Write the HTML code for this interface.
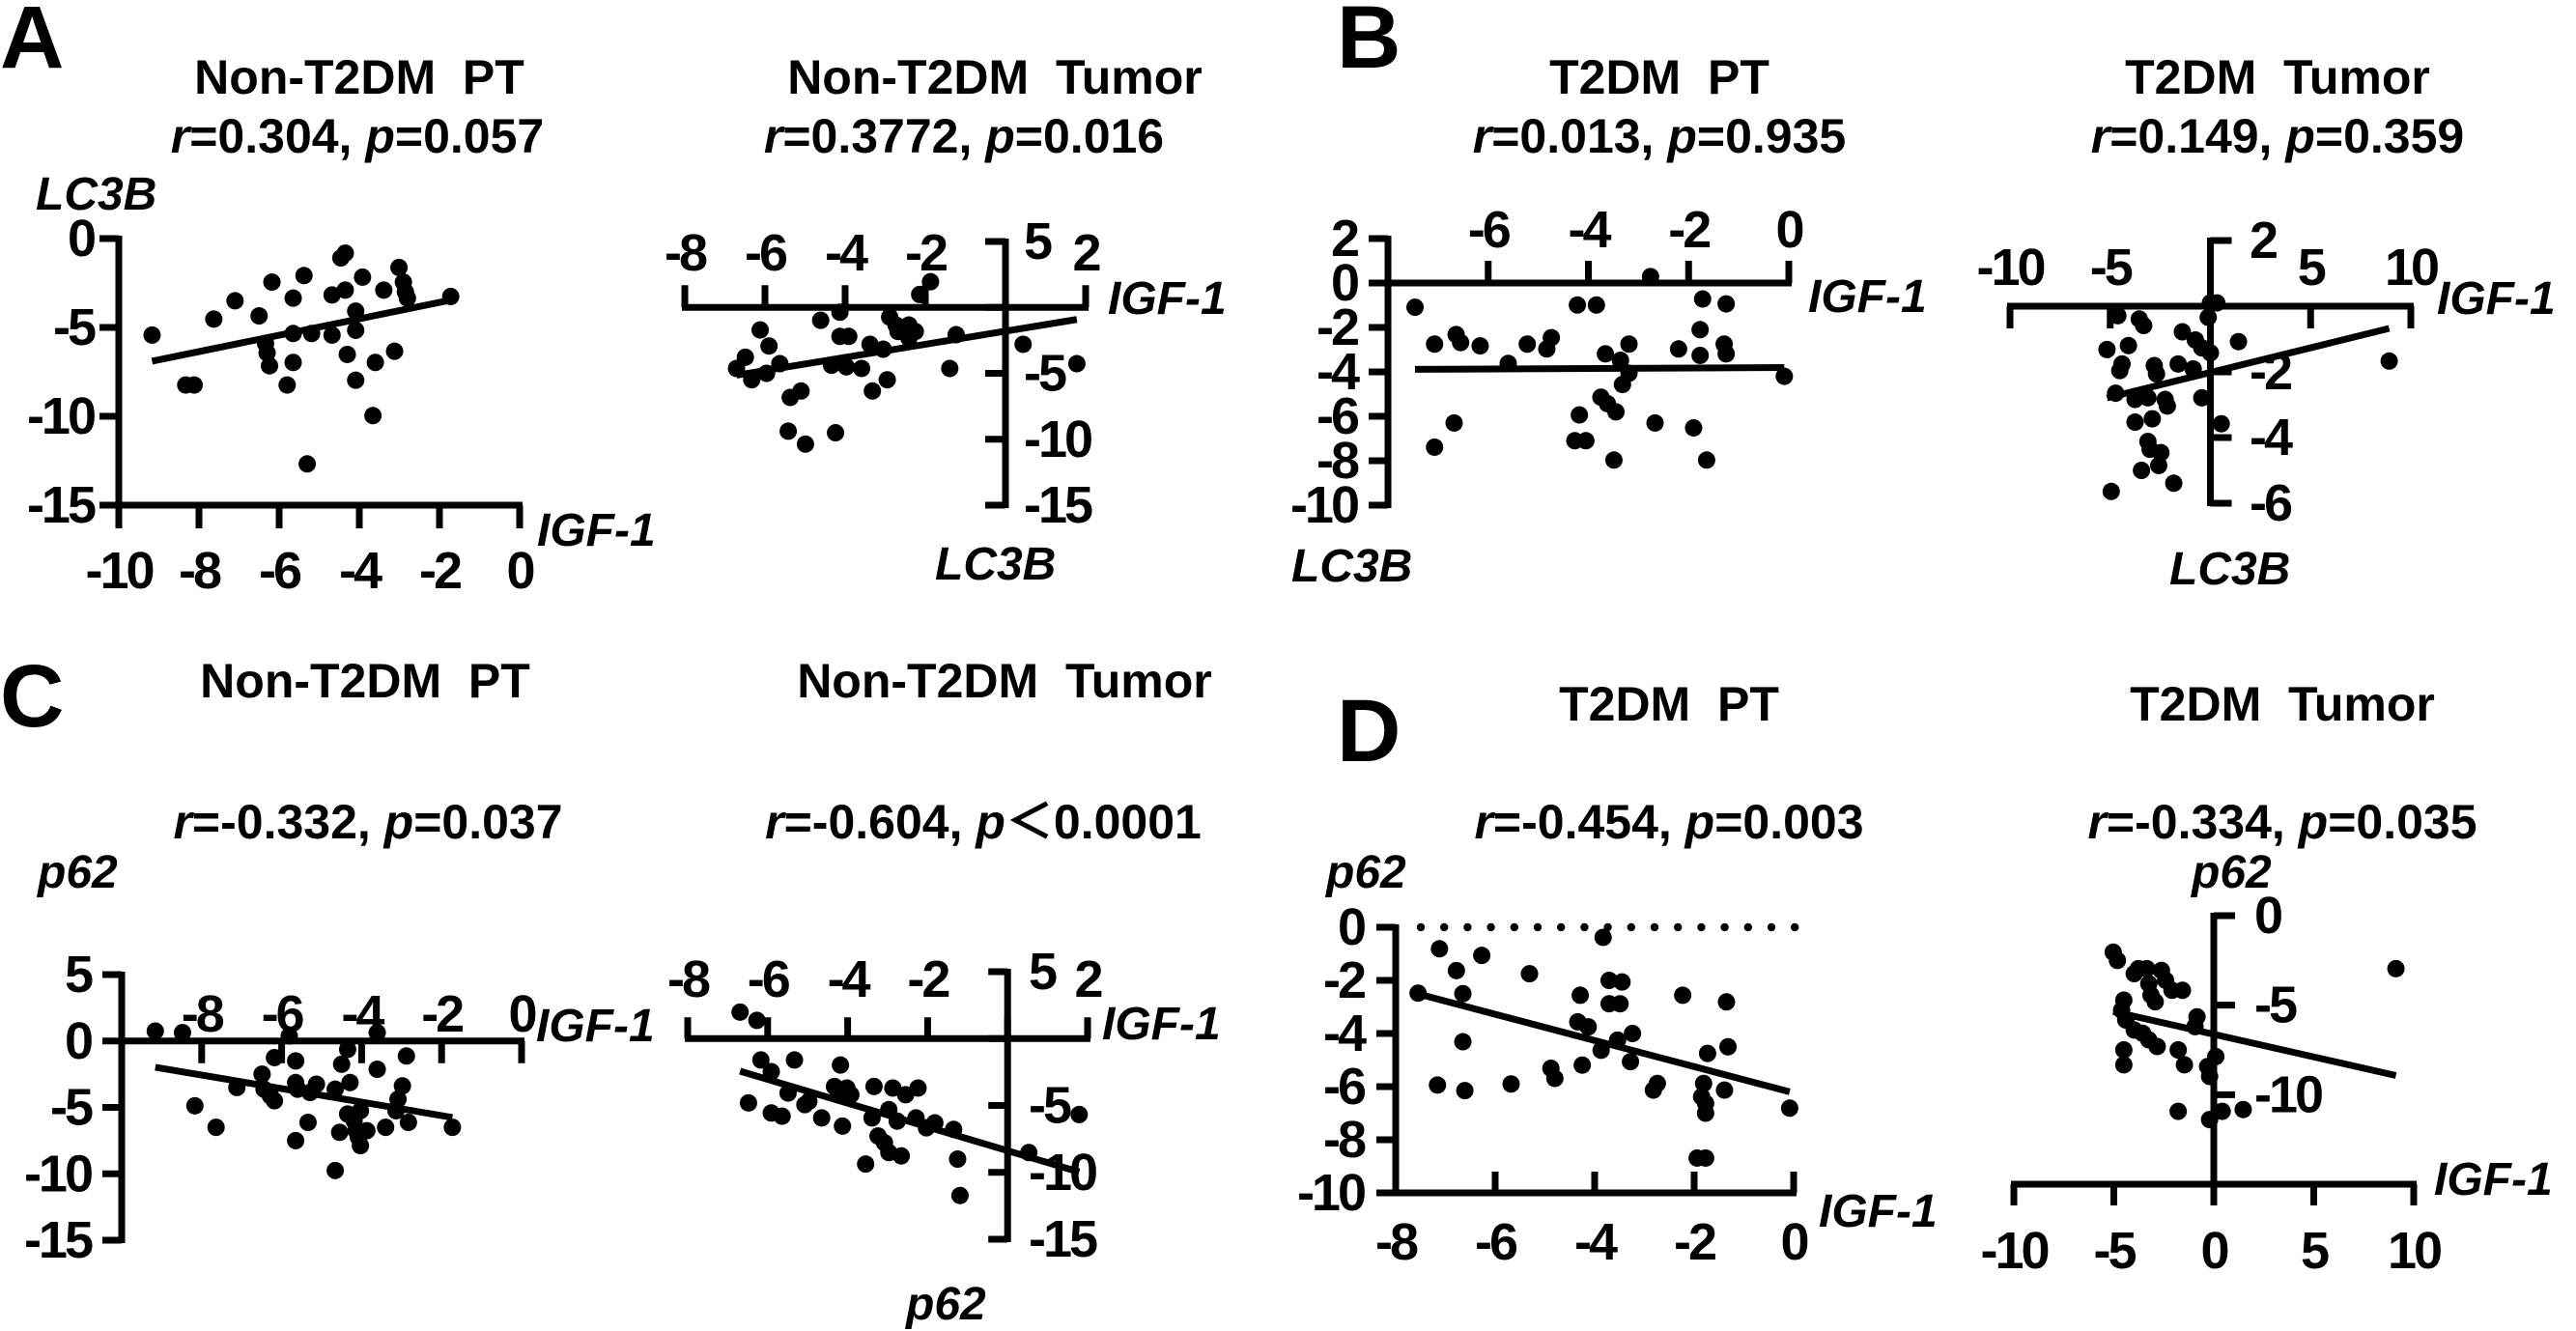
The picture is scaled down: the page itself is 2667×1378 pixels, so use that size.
<!DOCTYPE html>
<html><head><meta charset="utf-8"><title>IGF-1 correlations</title>
<style>
html,body{margin:0;padding:0;background:#fff;}
svg{display:block;}
text{font-family:"Liberation Sans","Noto Sans CJK SC",sans-serif;font-weight:bold;fill:#000;}
.t{font-size:50px;text-anchor:middle;white-space:pre;}
.s{font-size:50px;text-anchor:middle;}
.i{font-style:italic;}
.ax{font-size:48px;font-style:italic;}
.lt{font-size:92px;}
.tk{font-size:54px;letter-spacing:-3px;}
</style></head>
<body>
<svg id="fig" xmlns="http://www.w3.org/2000/svg" width="2667" height="1378" viewBox="0 0 2667 1378">
<rect width="2667" height="1378" fill="#fff"/>
<text class="lt" x="0" y="70">A</text>
<text class="lt" x="1384" y="70">B</text>
<text class="lt" x="0" y="752">C</text>
<text class="lt" x="1384" y="788">D</text>

<text class="t" x="372" y="97" xml:space="preserve">Non-T2DM  PT</text>
<text class="s" x="370" y="158"><tspan class="i">r</tspan>=0.304, <tspan class="i">p</tspan>=0.057</text>
<text class="t" x="1030" y="97" xml:space="preserve">Non-T2DM  Tumor</text>
<text class="s" x="998" y="158"><tspan class="i">r</tspan>=0.3772, <tspan class="i">p</tspan>=0.016</text>
<text class="t" x="1718" y="97" xml:space="preserve">T2DM  PT</text>
<text class="s" x="1718" y="158"><tspan class="i">r</tspan>=0.013, <tspan class="i">p</tspan>=0.935</text>
<text class="t" x="2358" y="97" xml:space="preserve">T2DM  Tumor</text>
<text class="s" x="2358" y="158"><tspan class="i">r</tspan>=0.149, <tspan class="i">p</tspan>=0.359</text>

<text class="t" x="378" y="722" xml:space="preserve">Non-T2DM  PT</text>
<text class="s" x="381" y="868"><tspan class="i">r</tspan>=-0.332, <tspan class="i">p</tspan>=0.037</text>
<text class="t" x="1040" y="722" xml:space="preserve">Non-T2DM  Tumor</text>
<text class="s" x="1018" y="868"><tspan class="i">r</tspan>=-0.604, <tspan class="i">p</tspan>＜0.0001</text>
<text class="t" x="1728" y="746" xml:space="preserve">T2DM  PT</text>
<text class="s" x="1728" y="868"><tspan class="i">r</tspan>=-0.454, <tspan class="i">p</tspan>=0.003</text>
<text class="t" x="2363" y="746" xml:space="preserve">T2DM  Tumor</text>
<text class="s" x="2363" y="868"><tspan class="i">r</tspan>=-0.334, <tspan class="i">p</tspan>=0.035</text>

<text class="ax" x="37" y="217">LC3B</text>
<text class="ax" x="556" y="565">IGF-1</text>
<text class="ax" x="1147" y="325">IGF-1</text>
<text class="ax" x="968" y="600">LC3B</text>
<text class="ax" x="1872" y="323">IGF-1</text>
<text class="ax" x="1337" y="602">LC3B</text>
<text class="ax" x="2523" y="325">IGF-1</text>
<text class="ax" x="2246" y="605">LC3B</text>
<text class="ax" x="39" y="919">p62</text>
<text class="ax" x="555" y="1078">IGF-1</text>
<text class="ax" x="1141" y="1076">IGF-1</text>
<text class="ax" x="938" y="1366">p62</text>
<text class="ax" x="1373" y="919">p62</text>
<text class="ax" x="1883" y="1270">IGF-1</text>
<text class="ax" x="2269" y="919">p62</text>
<text class="ax" x="2520" y="1237">IGF-1</text>
</svg>
<script>
// ---- data (IGF-1 x, marker y) per panel ----
const a1X=[-9.17,-8.33,-8.12,-7.63,-7.1,-6.5,-6.18,-6.34,-6.3,-6.24,-5.8,-5.65,-5.65,-5.65,-5.38,-5.3,-5.19,-4.68,-4.68,-4.46,-4.35,-4.35,-4.3,-4.09,-4.09,-4.09,-3.92,-3.66,-3.6,-3.39,-3.12,-3.01,-2.9,-2.85,-2.8,-1.72];
const a1Y=[-5.43,-8.24,-8.24,-4.53,-3.5,-4.35,-2.45,-5.9,-6.43,-7.16,-8.24,-3.35,-5.34,-6.97,-2.08,-12.68,-5.34,-5.43,-3.17,-1.09,-0.82,-2.9,-6.52,-4.08,-5.16,-7.97,-2.17,-9.96,-6.97,-2.9,-6.34,-1.63,-2.45,-3.0,-3.35,-3.26];
const a2X=[-6.71,-6.49,-6.33,-6.12,-5.9,-5.96,-5.63,-5.37,-5.1,-5.42,-4.99,-4.61,-4.13,-4.34,-4.13,-3.91,-3.97,-3.59,-3.38,-3.32,-3.05,-2.95,-2.89,-2.73,-2.68,-2.41,-2.25,-2.14,-1.87,-1.23,-1.39,0.44,1.78,-4.24,-2.41];
const a2Y=[-4.63,-3.78,-5.49,-1.71,-2.93,-5.0,-4.27,-6.83,-6.34,-9.39,-10.37,-0.98,-0.37,-4.39,-2.2,-2.2,-4.51,-4.63,-2.8,-6.34,-3.17,-5.49,-0.73,-1.34,-1.83,-1.34,-1.83,0.98,1.95,-2.07,-4.63,-2.8,-4.27,-9.51,-2.32];
const b1X=[-7.46,-7.07,-6.64,-6.55,-6.16,-7.07,-6.68,-5.6,-5.22,-4.74,-4.83,-4.22,-3.84,-4.18,-4.27,-4.05,-3.75,-3.62,-3.45,-3.66,-3.19,-3.36,-3.19,-3.32,-3.49,-2.76,-2.67,-2.2,-1.77,-1.77,-1.72,-1.25,-1.29,-1.25,-1.9,-1.64,-0.09];
const b1Y=[-1.09,-2.75,-2.32,-2.68,-2.83,-7.39,-6.3,-3.62,-2.75,-2.46,-2.97,-0.99,-0.99,-5.94,-7.1,-7.1,-5.14,-5.43,-5.8,-3.19,-2.75,-3.48,-4.06,-4.57,-7.97,0.29,-6.3,-2.97,-2.1,-3.26,-0.72,-0.94,-2.75,-3.19,-6.52,-7.97,-4.2];
const b2X=[0,0.32,-0.11,-4.62,-3.55,-3.33,-1.4,-0.75,-0.43,0,1.4,-5.16,-4.09,-4.41,-4.52,-2.8,-2.69,-1.61,-0.86,-4.73,-3.76,-3.12,-2.26,-2.15,-0.43,-3.76,-2.9,0.54,-3.12,-3.01,-2.47,-3.44,-2.58,-1.83,-4.95,8.92];
const b2Y=[0.1,0.1,-0.34,-0.29,-0.39,-0.59,-0.78,-1.03,-1.27,-1.42,-1.08,-1.32,-1.2,-1.76,-1.96,-1.81,-2.06,-1.76,-1.91,-2.65,-2.84,-2.79,-2.84,-3.04,-2.79,-3.53,-3.43,-3.58,-4.12,-4.36,-4.46,-5.0,-4.85,-5.39,-5.64,-1.67];
const c1X=[-9.16,-8.48,-8.17,-7.64,-7.12,-6.49,-6.44,-6.28,-6.18,-6.18,-5.81,-5.65,-5.65,-5.6,-5.34,-5.65,-5.13,-5.29,-4.66,-4.5,-4.35,-4.29,-4.55,-4.66,-4.35,-4.19,-4.03,-4.14,-4.08,-4.03,-3.87,-3.61,-3.61,-3.4,-2.98,-3.09,-3.14,-2.83,-2.88,-1.73];
const c1Y=[0.75,0.63,-4.88,-6.5,-3.5,-2.5,-3.63,-4.13,-4.5,-1.25,0.38,-1.5,-3.13,-3.63,-6.13,-7.5,-3.25,-3.88,-3.63,-1.75,-0.63,-3.13,-6.88,-9.75,-5.5,-6.0,-5.25,-6.75,-7.25,-7.88,-6.75,0.63,-2.13,-6.5,-3.38,-4.38,-5.25,-6.13,-1.13,-6.5];
const c2X=[-6.69,-6.27,-6.17,-5.33,-5.91,-6.48,-5.91,-5.64,-5.49,-5.07,-4.97,-4.65,-4.13,-4.18,-4.33,-4.02,-3.92,-4.23,-3.34,-3.39,-2.97,-2.76,-3.24,-3.08,-2.97,-2.66,-3.55,-2.87,-2.55,-2.24,-2.29,-2.03,-1.82,-1.35,-1.25,-1.19,0.53,1.79];
const c2Y=[1.98,1.36,-1.6,-1.6,-2.47,-4.81,-5.56,-5.8,-4.07,-4.94,-4.69,-5.93,-6.54,-1.98,-3.58,-3.7,-4.2,-4.07,-3.58,-5.93,-5.31,-6.17,-7.28,-7.78,-8.52,-8.77,-9.38,-3.7,-4.2,-3.7,-5.93,-6.67,-6.3,-6.79,-9.01,-11.73,-8.52,-5.68];
const d1X=[-7.55,-7.12,-6.78,-6.65,-6.65,-7.16,-6.61,-6.27,-5.31,-5.68,-4.88,-4.8,-4.29,-4.34,-4.13,-4.25,-3.87,-3.83,-3.71,-3.45,-3.71,-3.49,-3.54,-3.24,-3.28,-2.82,-2.74,-2.23,-1.81,-1.85,-1.77,-1.77,-1.73,-1.94,-1.77,-1.35,-1.32,-1.39,-0.08];
const d1Y=[-2.48,-0.81,-1.63,-2.5,-4.31,-5.94,-6.15,-1.06,-1.75,-5.9,-5.31,-5.69,-2.56,-3.56,-3.75,-5.19,-4.63,-0.38,-2.0,-2.06,-2.88,-2.88,-4.25,-4.0,-5.06,-6.13,-5.88,-2.56,-5.88,-6.38,-6.63,-7.0,-4.75,-8.69,-8.69,-2.81,-4.5,-6.13,-6.81];
const d2X=[-5.03,-4.82,-3.98,-3.77,-3.35,-3.25,-3.14,-2.93,-2.62,-2.41,-2.09,-1.57,-4.5,-4.61,-4.4,-3.98,-3.56,-3.25,-2.83,-0.84,-0.94,-4.5,-4.5,-1.78,-1.47,0.1,-0.31,-0.21,-1.78,-0.21,0.42,1.47,9.11];
const d2Y=[-2.04,-2.5,-3.24,-2.96,-2.96,-3.8,-4.44,-4.81,-3.06,-3.61,-4.17,-4.17,-4.72,-5.28,-5.83,-6.39,-6.57,-6.94,-7.31,-5.65,-6.2,-7.5,-8.33,-7.5,-8.33,-7.87,-8.43,-8.98,-10.93,-11.39,-10.93,-10.83,-2.96];
// ---- tick values ----
const a1XTicks=[-10,-8,-6,-4,-2,0];
const a1YTicks=[0,-5,-10,-15];
const a2XTicks=[-8,-6,-4,-2,0,2];
const a2YTicks=[5,0,-5,-10,-15];
const b1XTicks=[-6,-4,-2,0];
const b1YTicks=[2,0,-2,-4,-6,-8,-10];
const b2XTicks=[-10,-5,0,5,10];
const b2YTicks=[2,0,-2,-4,-6];
const c1XTicks=[-8,-6,-4,-2,0];
const c1YTicks=[5,0,-5,-10,-15];
const c2XTicks=[-8,-6,-4,-2,0,2];
const c2YTicks=[5,0,-5,-10,-15];
const d1XTicks=[-8,-6,-4,-2,0];
const d1YTicks=[0,-2,-4,-6,-8,-10];
const d2XTicks=[-10,-5,0,5,10];
const d2YTicks=[0,-5,-10];

const NS='http://www.w3.org/2000/svg';
const svg=document.getElementById('fig');
function mk(tag,attrs,parent){const e=document.createElementNS(NS,tag);for(const k in attrs)e.setAttribute(k,attrs[k]);parent.appendChild(e);return e;}
function lin(d,p){return v=>p[0]+(v-d[0])*(p[1]-p[0])/(d[1]-d[0]);}

function panel(id,c,xs,ys,xt,yt){
  const g=mk('g',{},svg);
  
  
  const X=lin(c.xd,c.xp),Y=lin(c.yd,c.yp);
  const ax=Y(c.xAxisAt), ay=X(c.yAxisAt);
  const W=7;
  if(c.dotted){
    for(let v=X(c.xd[0])+26;v<=X(c.xd[1])+2;v+=24.2){
      const d=mk('circle',{cx:v,cy:Y(0),r:4.2,fill:'#000'},g);
      
      
    }
  }
  const xl=mk('line',{x1:X(c.xd[0])-3,x2:X(c.xd[1])+3,y1:ax,y2:ax,stroke:'#000','stroke-width':W},g);
  
  
  const yl=mk('line',{x1:ay,x2:ay,y1:Y(c.yd[0])-3,y2:Y(c.yd[1])+3,stroke:'#000','stroke-width':W},g);
  
  
  xt.forEach(v=>{
    const t=mk('line',{x1:X(v),x2:X(v),y1:ax,y2:ax+c.xTick,stroke:'#000','stroke-width':W},g);
    
    
    if(c.xSkip&&c.xSkip.includes(v))return;
    const l=mk('text',{x:X(v),y:c.xLab,'text-anchor':'middle','class':'tk'},g);
    l.textContent=String(v);
    
    
  });
  yt.forEach(v=>{
    const t=mk('line',{x1:ay,x2:ay+c.yTick,y1:Y(v),y2:Y(v),stroke:'#000','stroke-width':W},g);
    
    
    if(c.ySkip&&c.ySkip.includes(v))return;
    const l=mk('text',{x:c.yLabX,y:Y(v)+18,'text-anchor':c.yAnchor,'class':'tk'},g);
    l.textContent=String(v);
    
    
  });
  xs.forEach((v,i)=>{
    const p=mk('circle',{cx:X(v),cy:Y(ys[i]),r:9,fill:'#000'},g);
    
    
  });
  // least-squares regression line over data range
  const n=xs.length;let mx=0,my=0;xs.forEach((v,i)=>{mx+=v;my+=ys[i];});mx/=n;my/=n;
  let sxy=0,sxx=0;xs.forEach((v,i)=>{sxy+=(v-mx)*(ys[i]-my);sxx+=(v-mx)*(v-mx);});
  const b=sxy/sxx,a=my-b*mx;const x0=Math.min(...xs),x1=Math.max(...xs);
  const rl=mk('line',{x1:X(x0),y1:Y(a+b*x0),x2:X(x1),y2:Y(a+b*x1),stroke:'#000','stroke-width':7},g);
  
  
}

panel('a1',{xd:[-10,0],xp:[123,538],yd:[0,-15],yp:[247,523],xAxisAt:-15,yAxisAt:-10,xTick:24,xLab:609,yTick:-20,yLabX:97,yAnchor:'end'},a1X,a1Y,a1XTicks,a1YTicks);
panel('a2',{xd:[-8,2],xp:[709,1124],yd:[5,-15],yp:[250,523],xAxisAt:0,yAxisAt:0,xTick:-23,xLab:280,xSkip:[0],yTick:-21,yLabX:1060,yAnchor:'start',ySkip:[0]},a2X,a2Y,a2XTicks,a2YTicks);
panel('b1',{xd:[-8,0],xp:[1437,1852],yd:[2,-10],yp:[247,523],xAxisAt:0,yAxisAt:-8,xTick:-23,xLab:256,yTick:-20,yLabX:1405,yAnchor:'end'},b1X,b1Y,b1XTicks,b1YTicks);
panel('b2',{xd:[-10,10],xp:[2081,2496],yd:[2,-6],yp:[249,521],xAxisAt:0,yAxisAt:0,xTick:23,xLab:295,xSkip:[0],yTick:22,yLabX:2329,yAnchor:'start',ySkip:[0]},b2X,b2Y,b2XTicks,b2YTicks);
panel('c1',{xd:[-10,0],xp:[126,540],yd:[5,-15],yp:[1009,1284],xAxisAt:0,yAxisAt:-10,xTick:23,xLab:1068,yTick:-20,yLabX:94,yAnchor:'end'},c1X,c1Y,c1XTicks,c1YTicks);
panel('c2',{xd:[-8,2],xp:[712,1126],yd:[5,-15],yp:[1006,1283],xAxisAt:0,yAxisAt:0,xTick:-22,xLab:1032,xSkip:[0],yTick:-20,yLabX:1065,yAnchor:'start',ySkip:[0]},c2X,c2Y,c2XTicks,c2YTicks);
panel('d1',{xd:[-8,0],xp:[1445,1857],yd:[0,-10],yp:[960,1235],xAxisAt:-10,yAxisAt:-8,xTick:-22,xLab:1304,yTick:-20,yLabX:1412,yAnchor:'end',dotted:true},d1X,d1Y,d1XTicks,d1YTicks);
panel('d2',{xd:[-10,10],xp:[2085,2499],yd:[0,-15],yp:[948,1226],xAxisAt:-15,yAxisAt:0,xTick:22,xLab:1313,yTick:22,yLabX:2334,yAnchor:'start'},d2X,d2Y,d2XTicks,d2YTicks);
</script>
</body></html>
